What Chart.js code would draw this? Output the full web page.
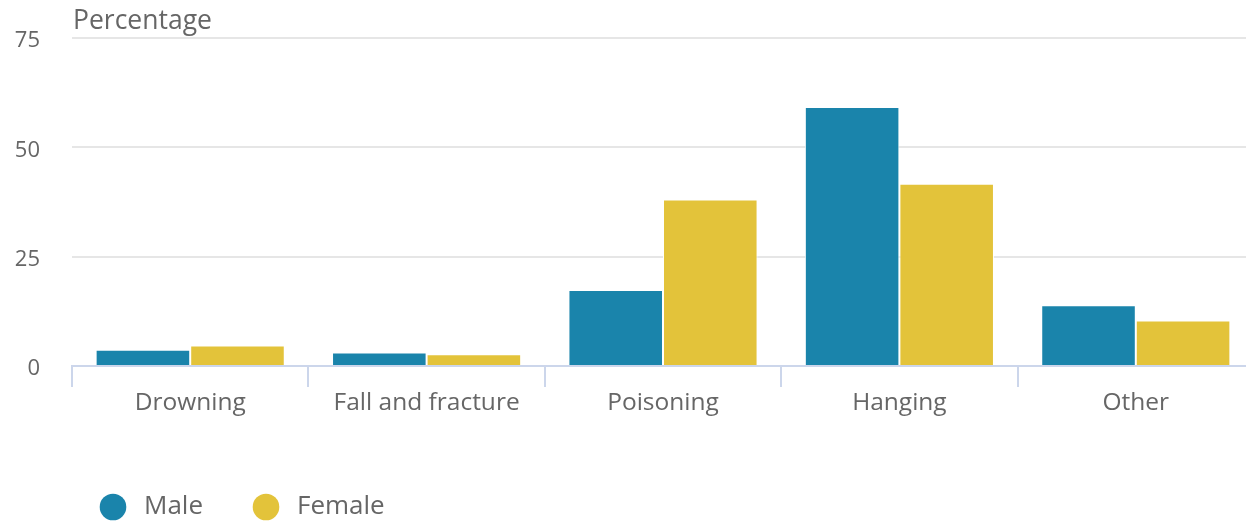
<!DOCTYPE html>
<html>
<head>
<meta charset="utf-8">
<script src="https://cdn.jsdelivr.net/npm/chart.js@4"></script>
<style>
  html, body { margin: 0; padding: 0; background: #fff; overflow: hidden; }
  #wrap { width: 1258px; height: 522px; }
</style>
</head>
<body>
<div id="wrap"><canvas id="causeChart"></canvas></div>
<script>
const categories = ['Drowning', 'Fall and fracture', 'Poisoning', 'Hanging', 'Other'];
const male = [3.7, 3.1, 17.4, 59.2, 13.9];
const female = [4.7, 2.7, 38.1, 41.7, 10.4];
const yTicks = [0, 25, 50, 75];

// legend marker: a round dot sitting a little left of the box centre
function dot(color) {
    const c = document.createElement('canvas');
    c.width = 38;
    c.height = 28;
    const g = c.getContext('2d');
    g.fillStyle = color;
    g.beginPath();
    g.arc(14, 14, 13.3, 0, Math.PI * 2);
    g.fill();
    return c;
}

// y axis caption drawn above the plot, left aligned with it
const axisTitle = {
    id: 'axisTitle',
    afterDraw(chart) {
        const c = chart.ctx;
        c.save();
        c.font = '26.5px "Open Sans"';
        c.fillStyle = '#666666';
        c.textAlign = 'left';
        c.textBaseline = 'middle';
        c.fillText('Percentage', chart.chartArea.left + 1, 21);
        c.restore();
    }
};

// keep the legend short in the layout and move it to the lower left
const legendPlace = {
    id: 'legendPlace',
    afterInit(chart) {
        const lg = chart.legend;
        const fit = lg.fit;
        lg.fit = function() {
            fit.call(this);
            this.height = 83;
        };
    },
    afterLayout(chart) {
        const lg = chart.legend;
        lg.left += 50;
        lg.right += 50;
    }
};

document.addEventListener("DOMContentLoaded", function() {
    const ctx = document.getElementById('causeChart').getContext('2d');

    new Chart(ctx, {
        type: 'bar',
        data: {
            labels: categories,
            datasets: [{
                label: 'Male',
                data: male,
                backgroundColor: '#1a84ab',
                borderColor: '#ffffff',
                borderWidth: 1,
                pointStyle: dot('#1a84ab')
            }, {
                label: 'Female',
                data: female,
                backgroundColor: '#e3c33a',
                borderColor: '#ffffff',
                borderWidth: 1,
                pointStyle: dot('#e3c33a')
            }]
        },
        options: {
            responsive: true,
            maintainAspectRatio: false,
            animation: false,
            categoryPercentage: 0.8,
            barPercentage: 1.0,
            layout: { padding: { top: 38, left: 0, right: 4, bottom: 0 } },
            plugins: {
                tooltip: { enabled: false },
                legend: {
                    position: 'bottom',
                    align: 'start',
                    labels: {
                        usePointStyle: true,
                        boxWidth: 26,
                        boxHeight: 19,
                        padding: 55,
                        color: '#666666',
                        font: { family: '"Open Sans"', size: 26 }
                    }
                }
            },
            scales: {
                x: {
                    afterFit: s => { s.height = 73; },
                    grid: {
                        offset: true,
                        drawOnChartArea: false,
                        drawTicks: true,
                        tickLength: 21,
                        color: '#ccd6eb',
                        lineWidth: 2
                    },
                    border: { color: '#ccd6eb', width: 2 },
                    ticks: {
                        padding: 1,
                        color: '#666666',
                        font: { family: '"Open Sans"', size: 24.5 }
                    }
                },
                y: {
                    min: yTicks[0],
                    max: yTicks[yTicks.length - 1],
                    afterFit: s => { s.width = 72; },
                    afterBuildTicks: s => { s.ticks = yTicks.map(v => ({ value: v })); },
                    grid: {
                        color: '#e6e6e6',
                        lineWidth: 2,
                        drawTicks: true,
                        tickLength: 28,
                        tickColor: 'rgba(0,0,0,0)'
                    },
                    border: { display: false },
                    ticks: {
                        padding: 4,
                        labelOffset: 3,
                        color: '#666666',
                        font: { family: '"Open Sans"', size: 22 }
                    }
                }
            }
        },
        plugins: [axisTitle, legendPlace]
    });
});
</script>
</body>
</html>
